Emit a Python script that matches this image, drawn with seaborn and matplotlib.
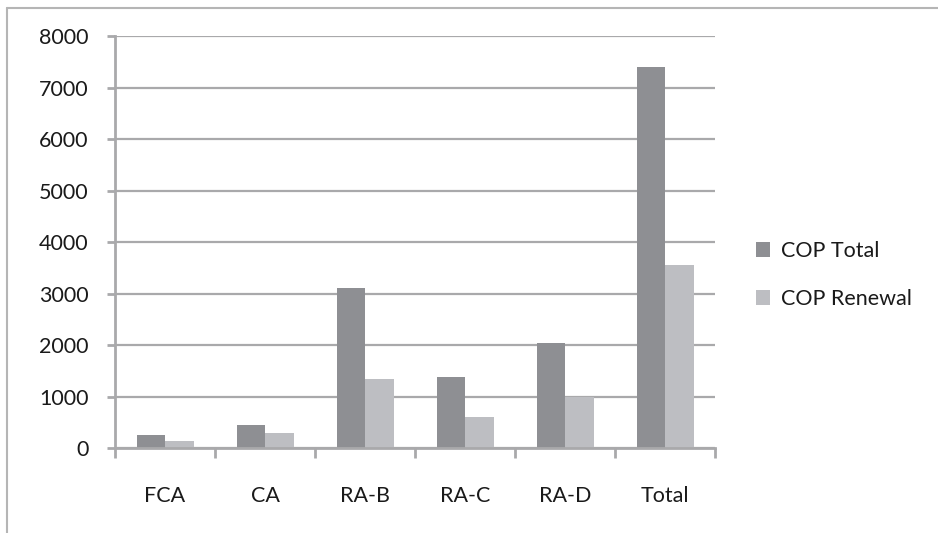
import matplotlib
matplotlib.use("Agg")
import matplotlib.pyplot as plt
from matplotlib.lines import Line2D
from matplotlib.ticker import FixedLocator
import seaborn as sns
import pandas as pd

categories = ["FCA", "CA", "RA-B", "RA-C", "RA-D", "Total"]
cop_total = [265, 460, 3120, 1380, 2050, 7400]
cop_renewal = [150, 305, 1340, 610, 1000, 3560]
series_names = ["COP Total", "COP Renewal"]
y_ticks = [0, 1000, 2000, 3000, 4000, 5000, 6000, 7000, 8000]

df = pd.DataFrame({
    "category": categories * 2,
    "value": cop_total + cop_renewal,
    "series": [series_names[0]] * len(categories) + [series_names[1]] * len(categories),
})

sns.set_theme(style="white")
plt.rcParams["font.family"] = ["Lato", "DejaVu Sans"]

grid_gray = "#a9a9ab"
text_color = "#1a1a1a"
font_size = 15.5
palette = {series_names[0]: "#8e8f93", series_names[1]: "#bdbec2"}

fig = plt.figure(figsize=(9.38, 5.33), dpi=100)
ax = fig.add_axes([115 / 938, 1 - 448.3 / 533, 600 / 938, (448.3 - 36) / 533])

sns.barplot(data=df, x="category", y="value", hue="series", order=categories,
            hue_order=series_names, palette=palette, width=0.57, gap=0,
            saturation=1, edgecolor="none", linewidth=0, ax=ax, legend=True)

ax.set_ylim(0, 8000)
ax.set_xlim(-0.5, len(categories) - 0.5)
ax.set_yticks(y_ticks)
ax.set_xlabel("")
ax.set_ylabel("")

ax.yaxis.grid(True, color=grid_gray, linewidth=1.6)
ax.set_axisbelow(True)

for side in ["top", "right"]:
    ax.spines[side].set_visible(False)
for side in ["left", "bottom"]:
    ax.spines[side].set_color(grid_gray)
    ax.spines[side].set_linewidth(2)

# category separators as downward ticks on the x axis
ax.xaxis.set_minor_locator(FixedLocator([i - 0.5 for i in range(len(categories) + 1)]))
ax.tick_params(axis="x", which="major", length=0, pad=27, labelsize=font_size,
               labelcolor=text_color)
ax.tick_params(axis="x", which="minor", bottom=True, length=7, width=2, color=grid_gray)
ax.tick_params(axis="y", which="major", left=True, length=6, width=2, color=grid_gray,
               pad=13, labelsize=font_size, labelcolor=text_color)

leg = ax.legend(loc="center left", bbox_to_anchor=(756 / 938, 1 - 275 / 533),
                bbox_transform=fig.transFigure, frameon=False, fontsize=font_size,
                handlelength=0.65, handleheight=0.65, handletextpad=0.5,
                labelspacing=1.3, borderaxespad=0, borderpad=0)
for t in leg.get_texts():
    t.set_color(text_color)

# outer chart frame (left and top edges)
fig.add_artist(Line2D([6.5 / 938, 6.5 / 938], [0, 1 - 8 / 533], transform=fig.transFigure,
                      color="#b5b5b5", linewidth=1.5))
fig.add_artist(Line2D([6.5 / 938, 1], [1 - 8 / 533, 1 - 8 / 533], transform=fig.transFigure,
                      color="#b5b5b5", linewidth=1.5))

fig.savefig("out.png", dpi=100, facecolor="white")
